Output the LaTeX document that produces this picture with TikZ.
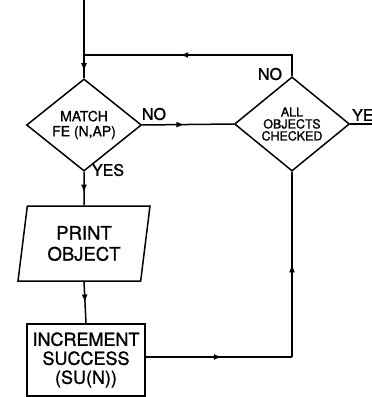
\documentclass[tikz,border=0pt]{standalone}
\usepackage{fontspec}
\setmainfont{TeX Gyre Heros}[UprightFeatures={FakeBold=1.2}]
\usetikzlibrary{shapes.geometric,arrows.meta,decorations.markings}

\tikzset{
  flow/.style = {line width=1.5pt},
  midarrow/.style = {postaction={decorate}, decoration={markings,
      mark=at position #1 with {\arrow{Latex[length=8pt,width=6pt]}}}},
  decision/.style = {draw, line width=1.5pt, diamond, inner sep=0pt,
      minimum width=115pt, minimum height=64pt, align=center},
  iobox/.style = {draw, line width=1.5pt, trapezium, trapezium left angle=75,
      trapezium right angle=105, trapezium stretches body, minimum width=132pt,
      minimum height=75pt, inner sep=0pt, align=center},
  procbox/.style = {draw, line width=1.5pt, rectangle, minimum width=118pt,
      minimum height=72pt, inner sep=0pt, align=center},
  lbl/.style = {font=\fontsize{16}{16}\selectfont}
}

\begin{document}
\begin{tikzpicture}[x=1pt, y=-1pt]
\useasboundingbox (0,0) rectangle (372,397);
% nodes
\node[decision, font=\fontsize{14}{15}\selectfont] (match) at (84,125) {MATCH\\FE (N,AP)};
\node[decision, font=\fontsize{12.5}{12}\selectfont] (allobj) at (292,124) {ALL\\OBJECTS\\CHECKED};
\node[iobox, font=\fontsize{18.5}{21}\selectfont] (print) at (84,243.5) {PRINT\\OBJECT};
\node[procbox, font=\fontsize{18}{19}\selectfont] (incr) at (86,360) {INCREMENT\\SUCCESS\\(SU(N))};
\coordinate (start) at (84,0);
\coordinate (join) at (84,55);
\coordinate (loop) at (292,55);
\coordinate (back) at (292,357);
\coordinate (exit) at (372,124);
% connectors
\draw[flow] (start) -- (join);
\draw[flow, midarrow=0.7] (join) -- (match.north);
\draw[flow, midarrow=0.58] (allobj.north) -- (loop) -- (join);
\draw[flow, midarrow=0.46] (match.east) -- (allobj.west);
\draw[flow, midarrow=0.62] (match.south) -- (print.north);
\draw[flow, midarrow=0.5] (print.south) -- (incr.north);
\draw[flow, midarrow=0.52] (incr.east |- back) -- (back);
\draw[flow, midarrow=0.5] (back) -- (allobj.south);
\draw[flow] (allobj.east) -- (exit);
% labels
\node[lbl] (no1) at (154,114) {NO};
\node[lbl] (no2) at (270,74) {NO};
\node[lbl] (yes1) at (108,170) {YES};
\node[lbl, anchor=west, inner sep=0pt] (yes2) at (352,115) {YES};
\end{tikzpicture}
\end{document}
